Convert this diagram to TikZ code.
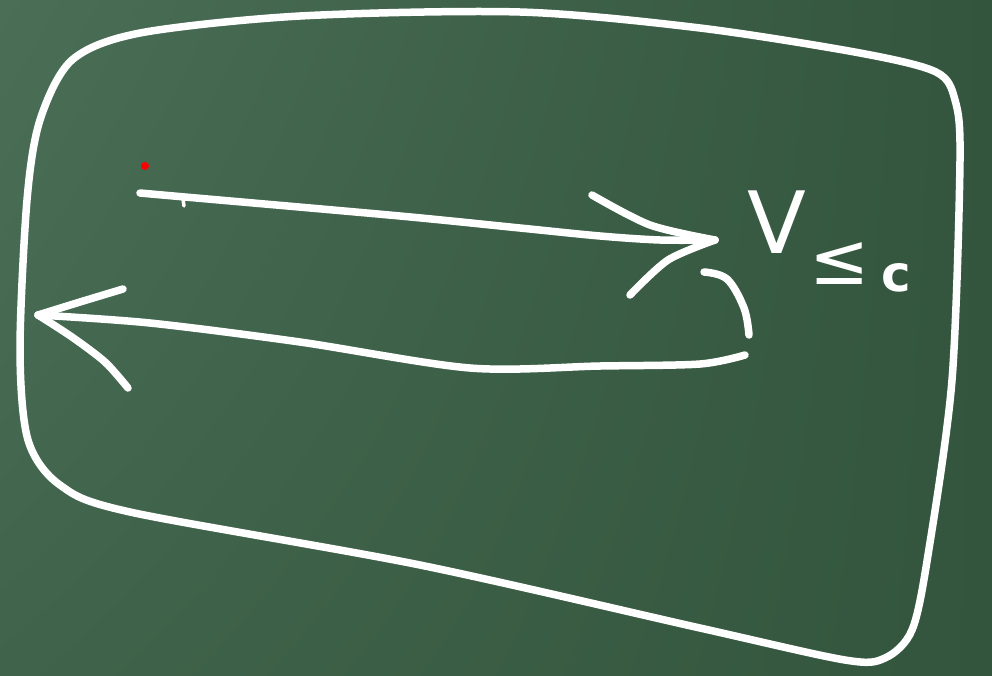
\documentclass[tikz,border=0pt]{standalone}
\usepackage{fontspec}
\usetikzlibrary{shadings}
\newfontfamily\chalkfont{DejaVu Sans}
\definecolor{bglight}{HTML}{4B6E57}
\definecolor{bgmid}{HTML}{40644B}
\definecolor{bgdark}{HTML}{33553D}
\begin{document}
\begin{tikzpicture}[x=1pt,y=-1pt,
  chalk/.style={draw=white, line width=7.5pt, line cap=round, line join=round},
  chalktext/.style={text=white, inner sep=0pt, font=\chalkfont}]
\useasboundingbox (0,0) rectangle (992,675);
\shade[upper left=bglight, upper right=bgdark, lower left=bgmid, lower right=bgdark] (0,0) rectangle (992,675);
% board outline
\draw[chalk] plot[smooth cycle, tension=0.5] coordinates {(40,120) (72,60) (140,33) (300,16) (520,12) (700,28) (860,53) (936,72) (955,100) (960,160) (952,380) (928,555) (912,630) (885,658) (845,660) (700,628) (420,565) (130,512) (60,485) (28,440) (20,350) (27,200)};
% red dot
\fill[red] (145,166) circle (4);
% arrow to the right
\coordinate (a1s) at (140,193);
\coordinate (a1e) at (715,240);
\draw[chalk] plot[smooth, tension=0.5] coordinates {(a1s) (185,197) (400,216) (520,228) (600,236) (660,240) (a1e)};
\draw[chalk, line width=3.5pt] (183,199) -- (184,206);
\draw[chalk] plot[smooth, tension=0.5] coordinates {(592,195) (650,225) (a1e)};
\draw[chalk] plot[smooth, tension=0.5] coordinates {(a1e) (668,260) (630,295)};
% return arrow to the left
\coordinate (a2s) at (745,355);
\coordinate (a2e) at (38,315);
\draw[chalk] plot[smooth, tension=0.5] coordinates {(a2s) (700,364) (600,366) (470,368) (300,342) (150,323) (a2e)};
\draw[chalk] plot[smooth, tension=0.5] coordinates {(123,289) (80,302) (a2e)};
\draw[chalk] plot[smooth, tension=0.5] coordinates {(a2e) (72,337) (105,362) (128,388)};
\draw[chalk] plot[smooth, tension=0.6] coordinates {(704,272) (727,279) (744,308) (749,335)};
% V <= c
\node[chalktext, font=\chalkfont\fontsize{86}{86}\selectfont] (v) at (777,222) {V};
\node[chalktext, font=\chalkfont\fontsize{72}{72}\selectfont] (le) at (840,264) {≤};
\node[chalktext, font=\chalkfont\bfseries\fontsize{50}{50}\selectfont] (c) at (896,278) {c};
\end{tikzpicture}
\end{document}
